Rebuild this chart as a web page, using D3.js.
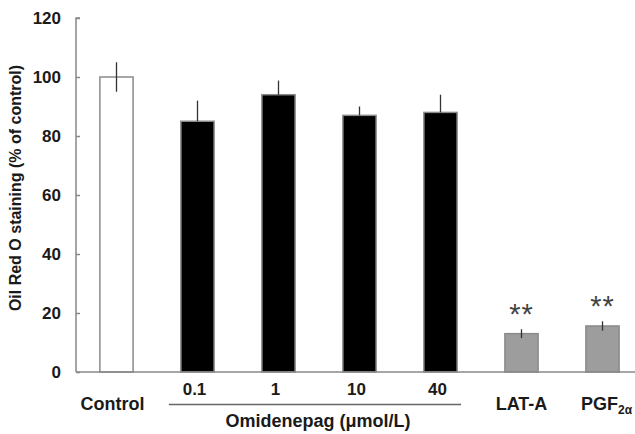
<!DOCTYPE html>
<html>
<head>
<meta charset="utf-8">
<script src="https://cdn.jsdelivr.net/npm/d3@7"></script>
<style>
  body { margin: 0; background: #fff; }
  text { font-family: "Liberation Sans", Arial, sans-serif; font-weight: bold; fill: #1a1a1a; }
</style>
</head>
<body>
<svg id="chart" width="635" height="434"></svg>
<script>
// values
var groups = ["Control", "0.1", "1", "10", "40", "LAT-A", "PGF"];
var values = [100, 85, 94, 87, 88, 13, 15.6];
var errors = [5, 7, 4.8, 3, 6, 1.5, 1.6];
var fills = ["#ffffff", "#000000", "#000000", "#000000", "#000000", "#9d9d9d", "#9d9d9d"];
var stars = ["", "", "", "", "", "**", "**"];
var yTicks = [0, 20, 40, 60, 80, 100, 120];
var doseGroups = ["0.1", "1", "10", "40"];

var svg = d3.select("#chart");
var x0 = 76, y0 = 372, yTop = 18;

var x = d3.scaleBand().domain(groups).range([x0, 643]).paddingInner(0.59).paddingOuter(0.295);
var y = d3.scaleLinear().domain([0, 120]).range([y0, yTop]);

// y axis
var yAxis = svg.append("g").attr("transform", "translate(" + x0 + ",0)")
    .call(d3.axisRight(y).tickValues(yTicks).tickSize(4).tickFormat(""));
yAxis.select(".domain").attr("stroke", "#888").attr("stroke-width", 1.5).attr("d", "M4," + yTop + "H0V" + y0);
yAxis.selectAll(".tick line").attr("stroke", "#888").attr("stroke-width", 1.5);

svg.selectAll(".ylab").data(yTicks).enter().append("text")
    .attr("class", "ylab")
    .attr("x", 61)
    .attr("y", function(d){ return y(d); })
    .attr("dy", "0.36em")
    .attr("text-anchor", "end")
    .style("font-size", "17px")
    .text(function(d){ return d; });

svg.append("text")
    .attr("transform", "translate(21,188) rotate(-90)")
    .attr("text-anchor", "middle")
    .style("font-size", "16px")
    .text("Oil Red O staining (% of control)");

// bars
svg.selectAll(".bar").data(groups).enter().append("rect")
    .attr("class", "bar")
    .attr("x", function(d){ return x(d); })
    .attr("width", x.bandwidth())
    .attr("y", function(d, i){ return y(values[i]); })
    .attr("height", function(d, i){ return y0 - y(values[i]); })
    .attr("fill", function(d, i){ return fills[i]; })
    .attr("stroke", "#8a8a8a")
    .attr("stroke-width", 1.5);

// error bars (lower half disappears into the black bars)
svg.selectAll(".err").data(groups).enter().append("line")
    .attr("class", "err")
    .attr("x1", function(d){ return x(d) + x.bandwidth() / 2; })
    .attr("x2", function(d){ return x(d) + x.bandwidth() / 2; })
    .attr("y1", function(d, i){ return y(values[i] + errors[i]); })
    .attr("y2", function(d, i){
        return fills[i] == "#000000" ? y(values[i]) : y(values[i] - errors[i]);
    })
    .attr("stroke", "#333")
    .attr("stroke-width", 1.3);

// significance marks
svg.selectAll(".star").data(groups).enter().append("text")
    .attr("class", "star")
    .attr("x", function(d){ return x(d) + x.bandwidth() / 2; })
    .attr("y", function(d, i){ return y(values[i] + errors[i]) - 5; })
    .attr("text-anchor", "middle")
    .style("font-size", "29px")
    .style("font-weight", "normal")
    .style("fill", "#444")
    .style("letter-spacing", "1px")
    .text(function(d, i){ return stars[i]; });

// baseline
svg.append("line")
    .attr("x1", x0).attr("x2", 635)
    .attr("y1", y0).attr("y2", y0)
    .attr("stroke", "#888").attr("stroke-width", 1.5);

// dose labels
svg.selectAll(".dose").data(doseGroups).enter().append("text")
    .attr("class", "dose")
    .attr("x", function(d){ return x(d) + x.bandwidth() / 2 - 3; })
    .attr("y", 395)
    .attr("text-anchor", "middle")
    .style("font-size", "17px")
    .text(function(d){ return d; });

// group labels
svg.append("text")
    .attr("x", x("Control") + x.bandwidth() / 2 - 4).attr("y", 410)
    .attr("text-anchor", "middle").style("font-size", "18px").text("Control");
svg.append("text")
    .attr("x", x("LAT-A") + x.bandwidth() / 2).attr("y", 410)
    .attr("text-anchor", "middle").style("font-size", "18px").text("LAT-A");
var pg = svg.append("text")
    .attr("x", x("PGF") + x.bandwidth() / 2 + 4).attr("y", 410)
    .attr("text-anchor", "middle").style("font-size", "18px");
pg.append("tspan").text("PGF");
pg.append("tspan").attr("dy", 4).style("font-size", "12px").text("2α");

// omidenepag bracket
svg.append("line")
    .attr("x1", x("0.1") - 12).attr("x2", x("40") + x.bandwidth() + 4)
    .attr("y1", 404.5).attr("y2", 404.5)
    .attr("stroke", "#666").attr("stroke-width", 1.5);
svg.append("text")
    .attr("x", (x("0.1") + x("40") + x.bandwidth()) / 2 - 1).attr("y", 427)
    .attr("text-anchor", "middle").style("font-size", "18px")
    .text("Omidenepag (μmol/L)");
</script>
</body>
</html>
